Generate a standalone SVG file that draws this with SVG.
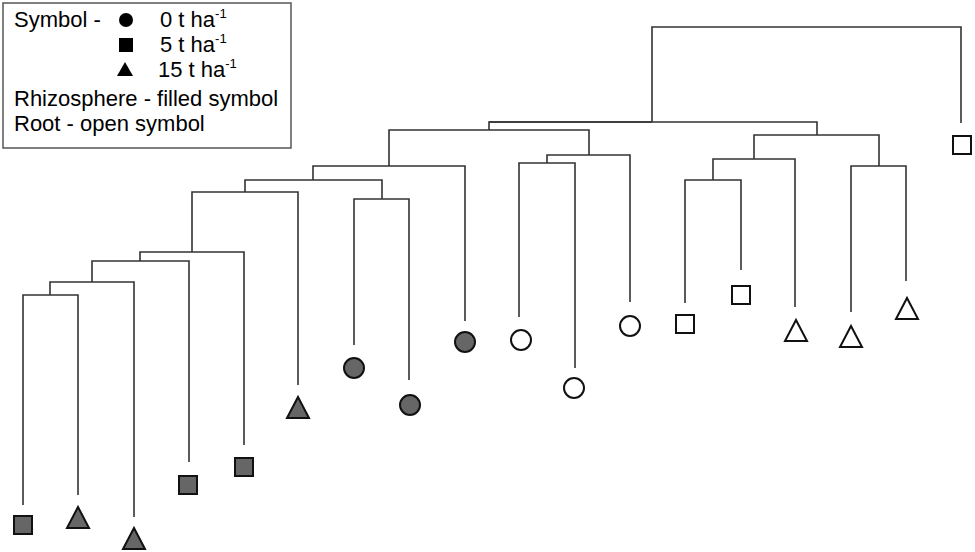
<svg xmlns="http://www.w3.org/2000/svg" width="975" height="552" viewBox="0 0 975 552">
<style>
.t{font-family:"Liberation Sans",Arial,sans-serif;font-size:22px;fill:#000}
.l{fill:none;stroke:#333;stroke-width:1.6}
.f{fill:#666;stroke:#111;stroke-width:2}
.o{fill:#fff;stroke:#111;stroke-width:2}
</style>
<defs>
<rect id="sq" x="-9" y="-9" width="18" height="18"/>
<circle id="ci" r="10"/>
<polygon id="tr" points="0,-11 11,10 -11,10"/>
</defs>
<rect width="975" height="552" fill="#fff"/>
<g id="legend">
<rect x="3" y="3" width="288" height="145" fill="#fff" stroke="#555" stroke-width="1.5"/>
<text class="t" x="14" y="27">Symbol -</text>
<circle cx="126" cy="20" r="7" fill="#000"/>
<text class="t" x="160" y="27">0 t ha<tspan font-size="13" dy="-9">-1</tspan></text>
<rect x="119" y="38" width="14" height="14" fill="#000"/>
<text class="t" x="160" y="52">5 t ha<tspan font-size="13" dy="-9">-1</tspan></text>
<polygon points="125,62 133,76 117,76" fill="#000"/>
<text class="t" x="158" y="77">15 t ha<tspan font-size="13" dy="-9">-1</tspan></text>
<text class="t" x="14" y="106">Rhizosphere - filled symbol</text>
<text class="t" x="14" y="131">Root - open symbol</text>
</g>
<g id="connectors" class="l">
<path d="M652,122V27H961V123"/>
<path d="M489,130V122H817V135"/>
<path d="M489,122H652"/>
<path d="M389,166V130H589V155"/>
<path d="M313,180V166H465V321"/>
<path d="M245,192V180H382V199"/>
<path d="M354,345V199H409V380"/>
<path d="M192,252V192H298V385"/>
<path d="M140,261V252H244V445"/>
<path d="M92,282V261H189V462"/>
<path d="M50,295V282H134V517"/>
<path d="M23,505V295H78V495"/>
<path d="M547,163V155H630V302"/>
<path d="M519,317V163H575V368"/>
<path d="M754,159V135H879V166"/>
<path d="M713,180V159H795V307"/>
<path d="M685,303V180H741V270"/>
<path d="M851,312V166H906V281"/>
</g>
<g id="n1"><use href="#sq" class="f" x="23" y="525"/></g>
<g id="n2"><use href="#tr" class="f" x="78" y="518"/></g>
<g id="n3"><use href="#tr" class="f" x="134" y="539"/></g>
<g id="n4"><use href="#sq" class="f" x="188" y="485"/></g>
<g id="n5"><use href="#sq" class="f" x="244" y="467"/></g>
<g id="n6"><use href="#tr" class="f" x="298" y="408"/></g>
<g id="n7"><use href="#ci" class="f" x="354" y="368"/></g>
<g id="n8"><use href="#ci" class="f" x="410" y="405"/></g>
<g id="n9"><use href="#ci" class="f" x="465" y="342"/></g>
<g id="n10"><use href="#ci" class="o" x="521" y="340"/></g>
<g id="n11"><use href="#ci" class="o" x="574" y="388"/></g>
<g id="n12"><use href="#ci" class="o" x="630" y="326"/></g>
<g id="n13"><use href="#sq" class="o" x="685" y="324"/></g>
<g id="n14"><use href="#sq" class="o" x="741" y="295"/></g>
<g id="n15"><use href="#tr" class="o" x="796" y="331"/></g>
<g id="n16"><use href="#tr" class="o" x="851" y="337"/></g>
<g id="n17"><use href="#tr" class="o" x="907" y="309"/></g>
<g id="n18"><use href="#sq" class="o" x="962" y="145"/></g>
</svg>
